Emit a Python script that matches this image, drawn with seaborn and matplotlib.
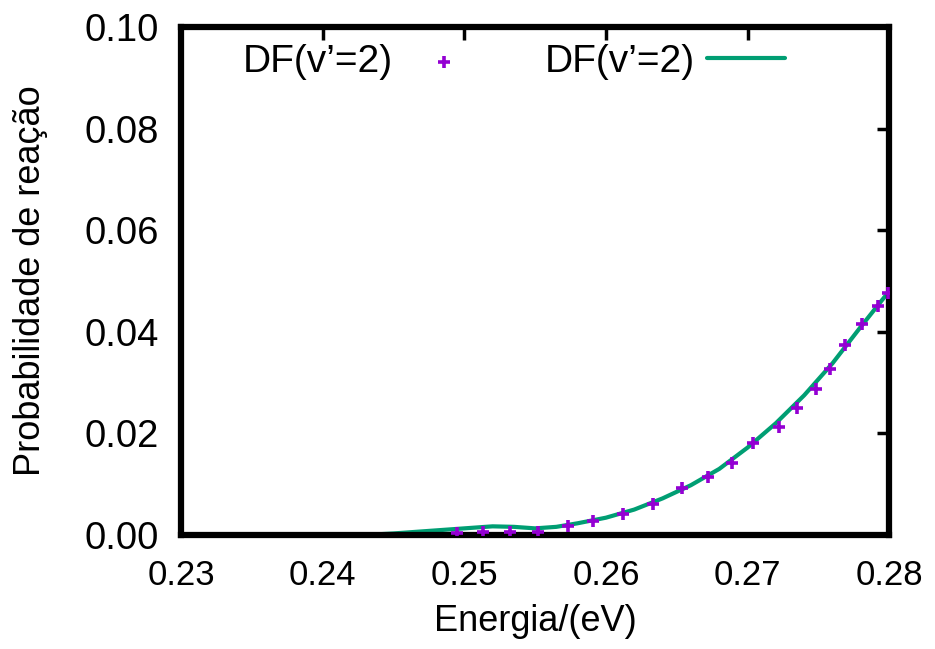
import numpy as np
import pandas as pd
import matplotlib
matplotlib.use("Agg")
import matplotlib.pyplot as plt
import seaborn as sns

# data points
energia_pts = [0.2495, 0.2513, 0.2532, 0.2552, 0.2573, 0.2591, 0.2612, 0.2633, 0.2654, 0.2672,
               0.2689, 0.2704, 0.2722, 0.2735, 0.2748, 0.2758, 0.2769, 0.2781, 0.2792, 0.2799]
prob_pts = [0.0003, 0.0006, 0.0006, 0.0005, 0.0018, 0.0027, 0.0042, 0.0061, 0.0093, 0.0114,
            0.0142, 0.0181, 0.0213, 0.0250, 0.0287, 0.0327, 0.0374, 0.0415, 0.0451, 0.0476]

# fitted curve
energia_fit = [0.2430, 0.2450, 0.2475, 0.2500, 0.2520, 0.2535, 0.2550, 0.2565, 0.2580, 0.2600,
               0.2620, 0.2640, 0.2660, 0.2680, 0.2700, 0.2720, 0.2740, 0.2760, 0.2780, 0.2800]
prob_fit = [0.0000, 0.0003, 0.0008, 0.0013, 0.0017, 0.0016, 0.0013, 0.0016, 0.0023, 0.0034,
            0.0050, 0.0072, 0.0098, 0.0130, 0.0172, 0.0220, 0.0275, 0.0338, 0.0410, 0.0480]

xticks = [0.23, 0.24, 0.25, 0.26, 0.27, 0.28]
yticks = [0.00, 0.02, 0.04, 0.06, 0.08, 0.10]

sns.set_theme(style="white")
plt.rcParams['font.family'] = ['Liberation Sans', 'DejaVu Sans']
plt.rcParams['text.color'] = 'black'
plt.rcParams['axes.labelcolor'] = 'black'
plt.rcParams['xtick.color'] = 'black'
plt.rcParams['ytick.color'] = 'black'

fig = plt.figure(figsize=(9.35, 6.49), dpi=100)
ax = fig.add_axes([0.1936, 0.1757, 0.7574, 0.7827])

pts = pd.DataFrame({'x': energia_pts, 'y': prob_pts})
fit = pd.DataFrame({'x': energia_fit, 'y': prob_fit})

sns.scatterplot(data=pts, x='x', y='y', ax=ax, marker='+', s=65, linewidth=2.6,
                color='#9400D3', label='DF(v’=2)', zorder=3)
sns.lineplot(data=fit, x='x', y='y', ax=ax, color='#009E73', linewidth=3,
             label='DF(v’=2)', zorder=2)

ax.set_xlim(0.23, 0.28)
ax.set_ylim(0, 0.1)
ax.set_xticks(xticks)
ax.set_xticklabels([f'{t:.2f}' for t in xticks])
ax.set_yticks(yticks)
ax.set_yticklabels([f'{t:.2f}' for t in yticks])
ax.tick_params(direction='in', length=9, width=2.5, top=True, right=True)
ax.tick_params(axis='x', labelsize=25, pad=17)
ax.tick_params(axis='y', labelsize=27.5, pad=16)
for sp in ax.spines.values():
    sp.set_linewidth(4.5)
    sp.set_color('black')

ax.set_xlabel('Energia/(eV)', fontsize=26, labelpad=9)
ax.set_ylabel('Probabilidade de reação', fontsize=26, labelpad=26)

ax.legend(loc='upper center', bbox_to_anchor=(0.47, 1.005), ncol=2, frameon=False,
          markerfirst=False, fontsize=28, handlelength=2.0, columnspacing=1.6,
          handletextpad=0.3, borderaxespad=0.1)

fig.savefig('out.png', dpi=100)
